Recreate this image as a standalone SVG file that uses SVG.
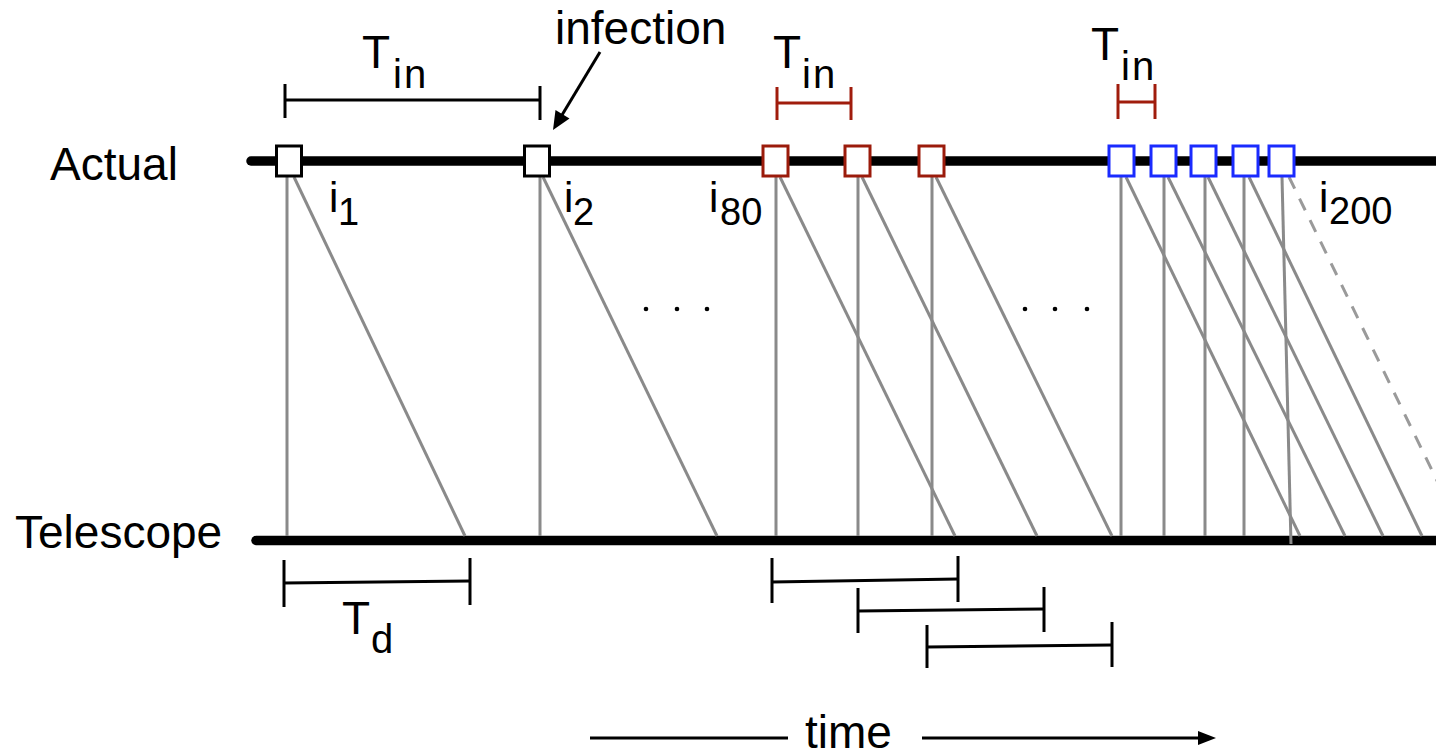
<svg xmlns="http://www.w3.org/2000/svg" width="1436" height="756" viewBox="0 0 1436 756">
<style>
text{font-family:"Liberation Sans",Arial,Helvetica,sans-serif;fill:#000}
.lbl{font-size:46px}
.sub{font-size:40px}
.ilbl{font-size:42px}
.isub{font-size:38px}
.axis{stroke:#000;stroke-width:9.5;stroke-linecap:round;fill:none}
.g{stroke:#8a8a8a;stroke-width:3;fill:none}
.gd{stroke:#9a9a9a;stroke-width:3;fill:none;stroke-dasharray:13 11}
.bk{stroke:#000;stroke-width:3;fill:none}
.rd{stroke:#A01C0C;stroke-width:3;fill:none}
.boxb{fill:#fff;stroke:#000;stroke-width:3}
.boxr{fill:#fff;stroke:#9B1B0B;stroke-width:3}
.boxu{fill:#fff;stroke:#1A2BFF;stroke-width:3}
</style>
<rect x="0" y="0" width="1436" height="756" fill="#fff"/>

<g id="axes">
  <line class="axis" x1="251" y1="161" x2="1440" y2="161"/>
  <line class="axis" x1="256" y1="540.5" x2="1440" y2="540.5"/>
  <text class="lbl" x="50" y="180">Actual</text>
  <text class="lbl" x="15" y="548">Telescope</text>
</g>

<g id="connectors">
  <line class="g" x1="287" y1="177" x2="287" y2="536"/>
  <line class="g" x1="294" y1="177" x2="465" y2="536"/>
  <line class="g" x1="540" y1="177" x2="540" y2="536"/>
  <line class="g" x1="543" y1="177" x2="717" y2="536"/>
  <line class="g" x1="776" y1="177" x2="776" y2="536"/>
  <line class="g" x1="780" y1="177" x2="955" y2="536"/>
  <line class="g" x1="858" y1="177" x2="858" y2="536"/>
  <line class="g" x1="862" y1="177" x2="1037" y2="536"/>
  <line class="g" x1="932" y1="177" x2="932" y2="536"/>
  <line class="g" x1="936" y1="177" x2="1112" y2="536"/>
  <line class="g" x1="1121" y1="177" x2="1121" y2="536"/>
  <line class="g" x1="1126" y1="177" x2="1300" y2="536"/>
  <line class="g" x1="1164" y1="177" x2="1164" y2="536"/>
  <line class="g" x1="1168" y1="177" x2="1345" y2="536"/>
  <line class="g" x1="1205" y1="177" x2="1205" y2="536"/>
  <line class="g" x1="1208" y1="177" x2="1383" y2="536"/>
  <line class="g" x1="1244" y1="177" x2="1244" y2="536"/>
  <line class="g" x1="1249" y1="177" x2="1422" y2="536"/>
  <line class="g" x1="1282" y1="177" x2="1291" y2="544"/>
  <line class="gd" x1="1289" y1="177" x2="1466" y2="540"/>
</g>

<g id="event-i1"><rect class="boxb" x="276.5" y="146" width="25" height="30"/></g>
<g id="event-i2"><rect class="boxb" x="524.5" y="146" width="25" height="30"/></g>
<g id="event-i80"><rect class="boxr" x="763" y="146" width="25" height="30"/></g>
<g id="event-r2"><rect class="boxr" x="845" y="146" width="25" height="30"/></g>
<g id="event-r3"><rect class="boxr" x="919" y="146" width="25" height="30"/></g>
<g id="event-b1"><rect class="boxu" x="1109" y="146" width="25" height="30"/></g>
<g id="event-b2"><rect class="boxu" x="1151" y="146" width="25" height="30"/></g>
<g id="event-b3"><rect class="boxu" x="1191" y="146" width="25" height="30"/></g>
<g id="event-b4"><rect class="boxu" x="1233" y="146" width="25" height="30"/></g>
<g id="event-i200"><rect class="boxu" x="1269" y="146" width="25" height="30"/></g>

<g id="labels-i">
  <text class="ilbl" x="329" y="212">i</text><text class="isub" x="338" y="225">1</text>
  <text class="ilbl" x="564" y="212">i</text><text class="isub" x="573" y="225">2</text>
  <text class="ilbl" x="709" y="212">i</text><text class="isub" x="720" y="225">80</text>
  <text class="ilbl" x="1319" y="212">i</text><text class="isub" x="1329" y="224">200</text>
</g>

<g id="tin-black">
  <line class="bk" x1="285" y1="100" x2="540" y2="100"/>
  <line class="bk" x1="285" y1="84" x2="285" y2="118"/>
  <line class="bk" x1="540" y1="86" x2="540" y2="120"/>
  <text class="lbl" x="362" y="68">T</text><text class="sub" x="393" y="88" letter-spacing="2">in</text>
</g>
<g id="tin-red1">
  <line class="rd" x1="777" y1="103" x2="851" y2="103"/>
  <line class="rd" x1="777" y1="87" x2="777" y2="120"/>
  <line class="rd" x1="851" y1="87" x2="851" y2="120"/>
  <text class="lbl" x="773" y="68">T</text><text class="sub" x="802" y="88" letter-spacing="2">in</text>
</g>
<g id="tin-red2">
  <line class="rd" x1="1118" y1="102" x2="1155" y2="102"/>
  <line class="rd" x1="1118" y1="84" x2="1118" y2="119"/>
  <line class="rd" x1="1155" y1="84" x2="1155" y2="119"/>
  <text class="lbl" x="1091" y="60">T</text><text class="sub" x="1121" y="80" letter-spacing="2">in</text>
</g>

<g id="infection">
  <text class="lbl" x="555" y="44">infection</text>
  <line class="bk" x1="600" y1="52" x2="562" y2="115"/>
  <polygon points="553,130 569.5,118.5 555.5,110" fill="#000"/>
</g>

<g id="td">
  <line class="bk" x1="284" y1="583" x2="470" y2="581"/>
  <line class="bk" x1="284" y1="560" x2="284" y2="607"/>
  <line class="bk" x1="470" y1="558" x2="470" y2="605"/>
  <text class="lbl" x="342" y="634">T</text><text class="sub" x="371" y="653">d</text>
</g>
<g id="td-brackets">
  <line class="bk" x1="772" y1="582" x2="958" y2="579"/>
  <line class="bk" x1="772" y1="558" x2="772" y2="603"/>
  <line class="bk" x1="958" y1="556" x2="958" y2="602"/>
  <line class="bk" x1="858" y1="611" x2="1044" y2="609"/>
  <line class="bk" x1="858" y1="588" x2="858" y2="633"/>
  <line class="bk" x1="1044" y1="587" x2="1044" y2="632"/>
  <line class="bk" x1="927" y1="647" x2="1112" y2="645"/>
  <line class="bk" x1="927" y1="625" x2="927" y2="668"/>
  <line class="bk" x1="1112" y1="622" x2="1112" y2="667"/>
</g>

<g id="ellipses" fill="#000">
  <circle cx="646" cy="309" r="2.3"/><circle cx="677" cy="309" r="2.3"/><circle cx="707" cy="309" r="2.3"/>
  <circle cx="1025" cy="309" r="2.3"/><circle cx="1055" cy="309" r="2.3"/><circle cx="1087" cy="309" r="2.3"/>
</g>

<g id="time">
  <line class="bk" x1="590" y1="738" x2="788" y2="738"/>
  <text class="lbl" x="805" y="748" font-size="44">time</text>
  <line class="bk" x1="922" y1="738" x2="1202" y2="738"/>
  <polygon points="1198,731 1216,738 1198,745" fill="#000"/>
</g>
</svg>
